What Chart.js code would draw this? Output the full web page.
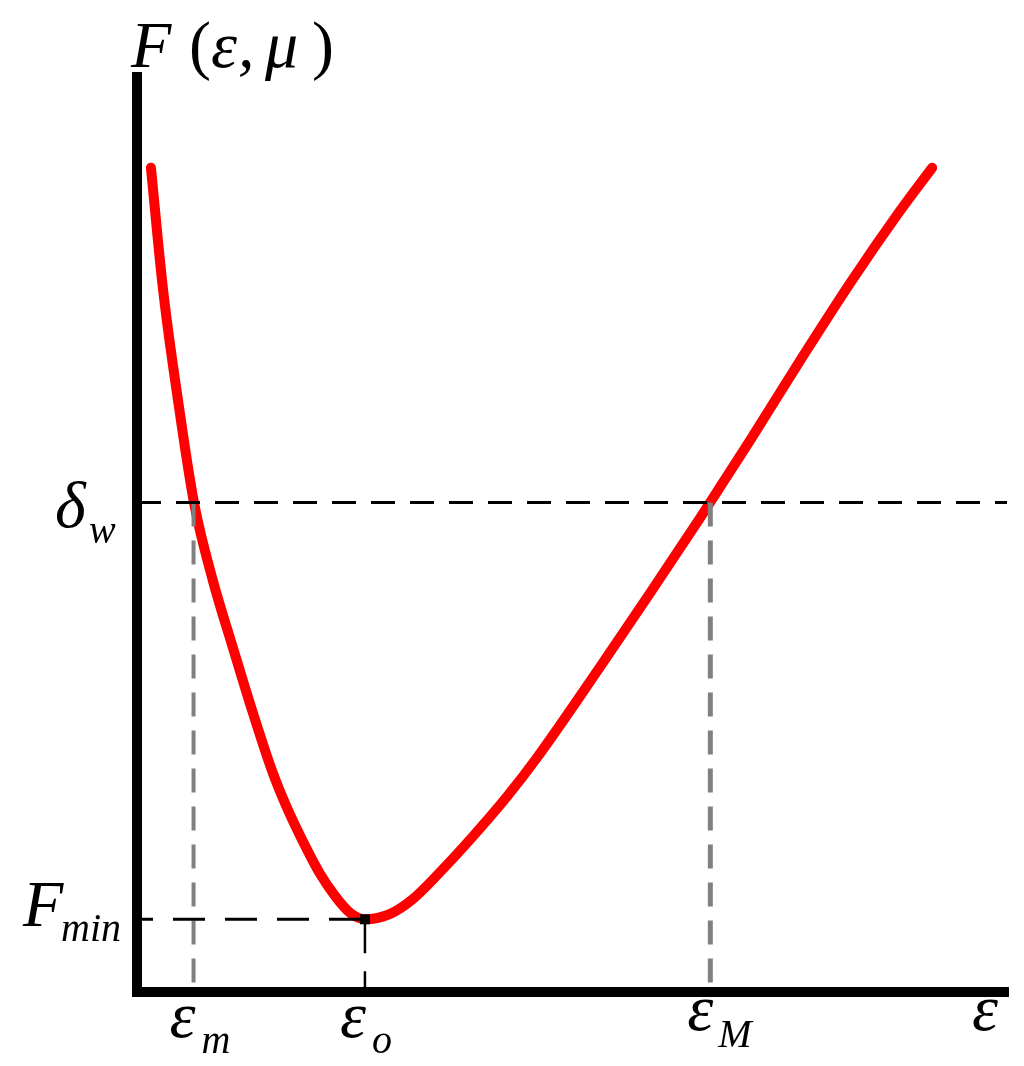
<!DOCTYPE html>
<html>
<head>
<meta charset="utf-8">
<script src="https://cdn.jsdelivr.net/npm/chart.js@4.4.0/dist/chart.umd.min.js"></script>
<style>
  html, body { margin: 0; padding: 0; background: #fff; }
  #wrap { width: 1024px; height: 1066px; }
</style>
</head>
<body>
<div id="wrap"><canvas id="chart" width="1024" height="1066"></canvas></div>
<script>
// F(eps, mu) curve (arbitrary units, both axes 0..10)
const epsCurve = [0.16, 0.30, 0.47, 0.655, 0.87, 1.10, 1.33, 1.55, 1.72, 1.90, 2.10, 2.28, 2.45, 2.62, 2.91, 3.17, 3.48, 3.86, 4.25, 4.60, 5.32, 5.90, 6.47, 7.05, 7.62, 8.20, 8.77, 9.14];
const fCurve   = [8.96, 7.63, 6.44, 5.32, 4.48, 3.75, 3.04, 2.41, 2.01, 1.65, 1.29, 1.04, 0.86, 0.79, 0.85, 1.01, 1.30, 1.69, 2.12, 2.55, 3.53, 4.34, 5.15, 6.00, 6.86, 7.71, 8.49, 8.96];

// marked values
const epsLow = 0.65;   // eps_m
const epsOpt = 2.62;   // eps_o
const epsHigh = 6.59;  // eps_M
const deltaW = 5.32;   // delta_w
const fMin = 0.79;     // F_min
const xMax = 10;
const yMax = 10;

const curvePoints = epsCurve.map((e, i) => ({ x: e, y: fCurve[i] }));

function dashedLine(pts, color, width, dash, offset) {
  return {
    data: pts,
    borderColor: color,
    borderWidth: width,
    borderDash: dash,
    borderDashOffset: offset || 0,
    borderCapStyle: "butt",
    pointRadius: 0,
    fill: false,
    tension: 0,
    clip: false,
  };
}

// Axes drawn as thick black lines on the scale origin
const axesPlugin = {
  id: "axes",
  afterDatasetsDraw(chart) {
    const { ctx } = chart;
    const x = chart.scales.x, y = chart.scales.y;
    const x0 = x.getPixelForValue(0);
    const y0 = y.getPixelForValue(0);
    ctx.save();
    ctx.strokeStyle = "#000";
    ctx.lineWidth = 10;
    ctx.lineCap = "butt";
    ctx.beginPath();
    ctx.moveTo(x0, y.getPixelForValue(yMax));
    ctx.lineTo(x0, y0 + 5);
    ctx.moveTo(x0 - 5, y0);
    ctx.lineTo(x.getPixelForValue(xMax) + 2, y0);
    ctx.stroke();
    ctx.restore();
  },
};

const mainFont = 'italic 66px "Liberation Serif"';
const uprightFont = '66px "Liberation Serif"';
const subFont = 'italic 40px "Liberation Serif"';

function put(ctx, text, font, px, py) {
  ctx.font = font;
  ctx.fillText(text, px, py);
}

// Math-style labels
const labelsPlugin = {
  id: "labels",
  afterDraw(chart) {
    const { ctx } = chart;
    const x = chart.scales.x, y = chart.scales.y;
    const x0 = x.getPixelForValue(0);
    const y0 = y.getPixelForValue(0);
    const yTop = y.getPixelForValue(yMax);
    const yD = y.getPixelForValue(deltaW);
    const yF = y.getPixelForValue(fMin);
    const xm = x.getPixelForValue(epsLow);
    const xo = x.getPixelForValue(epsOpt);
    const xM = x.getPixelForValue(epsHigh);
    const xEnd = x.getPixelForValue(xMax);

    ctx.save();
    ctx.fillStyle = "#000";
    ctx.textBaseline = "alphabetic";
    ctx.textAlign = "left";

    // F(eps, mu)
    put(ctx, "F", mainFont, x0 - 6, yTop - 5);
    put(ctx, "(", uprightFont, x0 + 52, yTop - 5);
    put(ctx, "ε", mainFont, x0 + 74, yTop - 5);
    put(ctx, ",", mainFont, x0 + 101, yTop - 5);
    put(ctx, "μ", mainFont, x0 + 128, yTop - 5);
    put(ctx, ")", uprightFont, x0 + 175, yTop - 5);

    // delta_w
    put(ctx, "δ", mainFont, x0 - 82, yD + 24);
    put(ctx, "w", subFont, x0 - 48, yD + 40);

    // F_min
    put(ctx, "F", mainFont, x0 - 114, yF + 7);
    put(ctx, "min", subFont, x0 - 76, yF + 22);

    // eps labels along the axis
    put(ctx, "ε", mainFont, xm - 24, y0 + 45);
    put(ctx, "m", subFont, xm + 8, y0 + 61);
    put(ctx, "ε", mainFont, xo - 25, y0 + 45);
    put(ctx, "o", subFont, xo + 7, y0 + 61);
    put(ctx, "ε", mainFont, xM - 23, y0 + 38);
    put(ctx, "M", subFont, xM + 8, y0 + 55);
    put(ctx, "ε", mainFont, xEnd - 35, y0 + 38);

    ctx.restore();
  },
};

const ctx = document.getElementById("chart").getContext("2d");
new Chart(ctx, {
  type: "line",
  data: {
    datasets: [
      // minimum point
      {
        data: [{ x: epsOpt, y: fMin }],
        showLine: false,
        pointStyle: "rect",
        pointRadius: 7,
        pointBackgroundColor: "#000",
        pointBorderWidth: 0,
        clip: false,
      },
      dashedLine([{ x: 0, y: deltaW }, { x: xMax, y: deltaW }], "#000", 3, [24, 15], 0),
      dashedLine([{ x: 0, y: fMin }, { x: epsOpt, y: fMin }], "#000", 3, [32, 20], 16),
      dashedLine([{ x: epsOpt, y: fMin }, { x: epsOpt, y: 0 }], "#000", 2.5, [34, 18], 0),
      dashedLine([{ x: epsLow, y: deltaW }, { x: epsLow, y: 0 }], "#808080", 4, [24, 14], 0),
      dashedLine([{ x: epsHigh, y: deltaW }, { x: epsHigh, y: 0 }], "#808080", 5, [24, 14], 0),
      // F(eps, mu)
      {
        data: curvePoints,
        borderColor: "#ff0000",
        borderWidth: 10,
        borderCapStyle: "round",
        cubicInterpolationMode: "monotone",
        pointRadius: 0,
        fill: false,
        clip: false,
      },
    ],
  },
  options: {
    responsive: false,
    animation: false,
    events: [],
    layout: { padding: { left: 137, right: 17, top: 72, bottom: 74 } },
    scales: {
      x: { type: "linear", min: 0, max: xMax, display: false },
      y: { type: "linear", min: 0, max: yMax, display: false },
    },
    plugins: {
      legend: { display: false },
      tooltip: { enabled: false },
    },
  },
  plugins: [axesPlugin, labelsPlugin],
});
</script>
</body>
</html>
